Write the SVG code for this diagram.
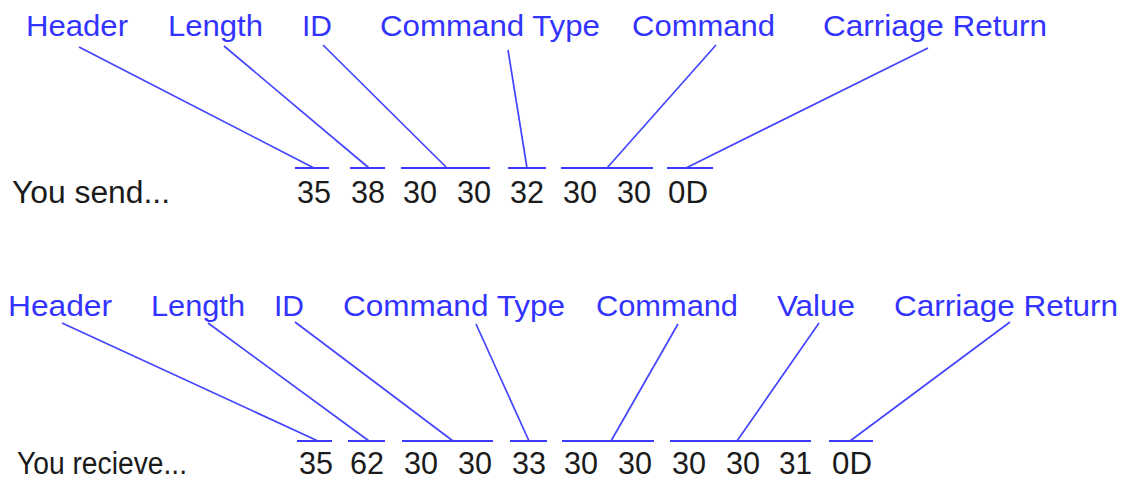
<svg xmlns="http://www.w3.org/2000/svg" width="1123" height="480" viewBox="0 0 1123 480">
<style>
.lbl{font-family:"Liberation Sans",Arial,sans-serif;font-size:30px;fill:#3333ff}
.num{font-family:"Liberation Sans",Arial,sans-serif;font-size:31px;fill:#1a1a1a}
.ul{stroke:#3a3aff;stroke-width:2;fill:none}
.cn{stroke:#4444ff;stroke-width:1.7;fill:none}
</style>
<rect width="1123" height="480" fill="#ffffff"/>
<g id="send-row">
<g id="send-labels">
<text class="lbl" x="26" y="36" textLength="102" lengthAdjust="spacingAndGlyphs">Header</text>
<text class="lbl" x="168" y="36" textLength="95" lengthAdjust="spacingAndGlyphs">Length</text>
<text class="lbl" x="302" y="36" textLength="30" lengthAdjust="spacingAndGlyphs">ID</text>
<text class="lbl" x="380" y="36" textLength="220" lengthAdjust="spacingAndGlyphs">Command Type</text>
<text class="lbl" x="632" y="36" textLength="143" lengthAdjust="spacingAndGlyphs">Command</text>
<text class="lbl" x="823" y="36" textLength="224" lengthAdjust="spacingAndGlyphs">Carriage Return</text>
</g>
<g id="send-bytes">
<text class="num" x="12" y="203" textLength="158" lengthAdjust="spacingAndGlyphs">You send...</text>
<text class="num" x="297" y="203" textLength="34" lengthAdjust="spacingAndGlyphs">35</text>
<text class="num" x="351" y="203" textLength="34" lengthAdjust="spacingAndGlyphs">38</text>
<text class="num" x="403" y="203" textLength="34" lengthAdjust="spacingAndGlyphs">30</text>
<text class="num" x="457" y="203" textLength="34" lengthAdjust="spacingAndGlyphs">30</text>
<text class="num" x="510" y="203" textLength="34" lengthAdjust="spacingAndGlyphs">32</text>
<text class="num" x="563" y="203" textLength="34" lengthAdjust="spacingAndGlyphs">30</text>
<text class="num" x="617" y="203" textLength="34" lengthAdjust="spacingAndGlyphs">30</text>
<text class="num" x="668" y="203" textLength="40" lengthAdjust="spacingAndGlyphs">0D</text>
</g>
</g>
<g id="receive-row">
<g id="receive-labels">
<text class="lbl" x="8" y="316" textLength="104" lengthAdjust="spacingAndGlyphs">Header</text>
<text class="lbl" x="151" y="316" textLength="94" lengthAdjust="spacingAndGlyphs">Length</text>
<text class="lbl" x="274" y="316" textLength="30" lengthAdjust="spacingAndGlyphs">ID</text>
<text class="lbl" x="343" y="316" textLength="222" lengthAdjust="spacingAndGlyphs">Command Type</text>
<text class="lbl" x="596" y="316" textLength="142" lengthAdjust="spacingAndGlyphs">Command</text>
<text class="lbl" x="777" y="316" textLength="78" lengthAdjust="spacingAndGlyphs">Value</text>
<text class="lbl" x="894" y="316" textLength="224" lengthAdjust="spacingAndGlyphs">Carriage Return</text>
</g>
<g id="receive-bytes">
<text class="num" x="17" y="474" textLength="170" lengthAdjust="spacingAndGlyphs">You recieve...</text>
<text class="num" x="299" y="474" textLength="34" lengthAdjust="spacingAndGlyphs">35</text>
<text class="num" x="350" y="474" textLength="34" lengthAdjust="spacingAndGlyphs">62</text>
<text class="num" x="404" y="474" textLength="34" lengthAdjust="spacingAndGlyphs">30</text>
<text class="num" x="458" y="474" textLength="34" lengthAdjust="spacingAndGlyphs">30</text>
<text class="num" x="512" y="474" textLength="34" lengthAdjust="spacingAndGlyphs">33</text>
<text class="num" x="564" y="474" textLength="34" lengthAdjust="spacingAndGlyphs">30</text>
<text class="num" x="618" y="474" textLength="34" lengthAdjust="spacingAndGlyphs">30</text>
<text class="num" x="672" y="474" textLength="34" lengthAdjust="spacingAndGlyphs">30</text>
<text class="num" x="726" y="474" textLength="34" lengthAdjust="spacingAndGlyphs">30</text>
<text class="num" x="779" y="474" textLength="33" lengthAdjust="spacingAndGlyphs">31</text>
<text class="num" x="832" y="474" textLength="40" lengthAdjust="spacingAndGlyphs">0D</text>
</g>
</g>
<g id="connectors">
<g id="send-underlines">
<line class="ul" x1="295" y1="168" x2="329" y2="168"/>
<line class="ul" x1="350" y1="168" x2="385" y2="168"/>
<line class="ul" x1="401" y1="168" x2="490" y2="168"/>
<line class="ul" x1="508" y1="168" x2="546" y2="168"/>
<line class="ul" x1="561" y1="168" x2="653" y2="168"/>
<line class="ul" x1="667" y1="168" x2="713" y2="168"/>
</g>
<g id="send-leaders">
<line class="cn" x1="79" y1="47" x2="314" y2="168"/>
<line class="cn" x1="224" y1="46" x2="369" y2="168"/>
<line class="cn" x1="323" y1="45" x2="447" y2="168"/>
<line class="cn" x1="508" y1="50" x2="527" y2="168"/>
<line class="cn" x1="716" y1="45" x2="607" y2="168"/>
<line class="cn" x1="928" y1="48" x2="686" y2="168"/>
</g>
<g id="receive-underlines">
<line class="ul" x1="297" y1="441" x2="332" y2="441"/>
<line class="ul" x1="348" y1="441" x2="385" y2="441"/>
<line class="ul" x1="402" y1="441" x2="493" y2="441"/>
<line class="ul" x1="510" y1="441" x2="547" y2="441"/>
<line class="ul" x1="562" y1="441" x2="654" y2="441"/>
<line class="ul" x1="670" y1="441" x2="811" y2="441"/>
<line class="ul" x1="829" y1="441" x2="873" y2="441"/>
</g>
<g id="receive-leaders">
<line class="cn" x1="62" y1="323" x2="318" y2="441"/>
<line class="cn" x1="208" y1="323" x2="369" y2="441"/>
<line class="cn" x1="295" y1="322" x2="453" y2="441"/>
<line class="cn" x1="476" y1="324" x2="529" y2="441"/>
<line class="cn" x1="678" y1="324" x2="611" y2="441"/>
<line class="cn" x1="819" y1="323" x2="737" y2="441"/>
<line class="cn" x1="1010" y1="322" x2="850" y2="441"/>
</g>
</g>
</svg>
